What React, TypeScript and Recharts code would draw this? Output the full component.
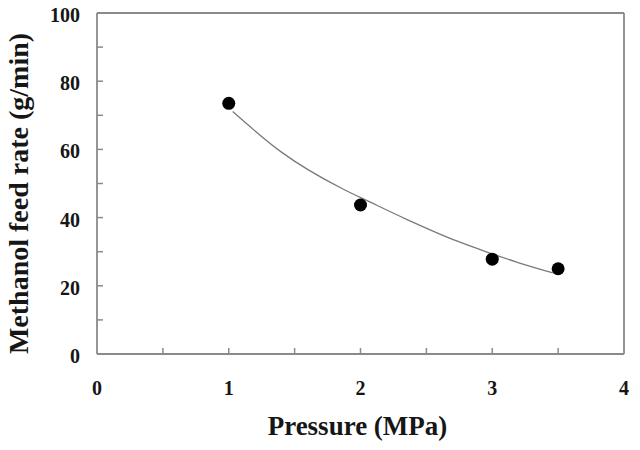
import React from 'react';
import { ComposedChart, Line, Scatter, XAxis, YAxis, ReferenceLine, Label } from 'recharts';

// Measured methanol feed rate at each pressure
const pressure = [1, 2, 3, 3.5];
const feedRate = [73.5, 43.7, 27.8, 25.0];

// Trend curve through the measurements
const trendPressure = [1.03, 1.4, 1.87, 2.07, 2.35, 2.74, 2.96, 3.19, 3.46];
const trendRate = [71.1, 59.2, 48.3, 44.6, 39.5, 33.0, 29.9, 26.9, 23.8];

// Axis ticks (all get a tick mark, labelled ones get text)
const xTicks = [0, 0.5, 1, 1.5, 2, 2.5, 3, 3.5, 4];
const xLabels = [0, 1, 2, 3, 4];
const yTicks = [0, 10, 20, 30, 40, 50, 60, 70, 80, 90, 100];
const yLabels = [0, 20, 40, 60, 80, 100];

const points = pressure.map((p, i) => ({ p, rate: feedRate[i] }));
const trend = trendPressure.map((p, i) => ({ p, rate: trendRate[i] }));

const FONT = '"Liberation Serif", "Times New Roman", serif';
const AXIS = '#8a8a8a';
const INK = '#161616';

const XTick = (props: any) => {
  const { x, y, payload } = props;
  const v = payload.value;
  const inner = v > 0 && v < 4;
  return (
    <g>
      {inner && <line x1={x} x2={x} y1={y} y2={y - 6} stroke={AXIS} strokeWidth={1.5} />}
      {xLabels.includes(v) && (
        <text x={x} y={y + 34} dy="0.35em" textAnchor="middle" fontFamily={FONT} fontWeight="bold" fontSize={20} fill={INK}>
          {v}
        </text>
      )}
    </g>
  );
};

const YTick = (props: any) => {
  const { x, y, payload } = props;
  const v = payload.value;
  const inner = v > 0 && v < 100;
  return (
    <g>
      {inner && <line x1={x} x2={x + 6} y1={y} y2={y} stroke={AXIS} strokeWidth={1.5} />}
      {yLabels.includes(v) && (
        <text x={x - 17} y={y + 2} dy="0.35em" textAnchor="end" fontFamily={FONT} fontWeight="bold" fontSize={20} fill={INK}>
          {v}
        </text>
      )}
    </g>
  );
};

const Dot = (props: any) => <circle cx={props.cx} cy={props.cy} r={6.5} fill="#000" />;

export default function App() {
  return (
    <div style={{ margin: -8 }}>
      <ComposedChart width={640} height={450} margin={{ top: 13, right: 16, bottom: 0, left: 0 }}>
        <XAxis
          type="number"
          dataKey="p"
          domain={[0, 4]}
          ticks={xTicks}
          interval={0}
          tickSize={0}
          tickMargin={0}
          tickLine={false}
          height={96}
          axisLine={{ stroke: AXIS, strokeWidth: 1.8 }}
          tick={<XTick />}
        >
          <Label
            content={(p: any) => {
              const vb = p.viewBox;
              return (
                <text x={vb.x + vb.width / 2 - 3} y={vb.y + 81} textAnchor="middle" fontFamily={FONT} fontWeight="bold" fontSize={27} fill={INK}>
                  Pressure (MPa)
                </text>
              );
            }}
          />
        </XAxis>
        <YAxis
          type="number"
          domain={[0, 100]}
          ticks={yTicks}
          interval={0}
          tickSize={0}
          tickMargin={0}
          tickLine={false}
          width={97}
          axisLine={{ stroke: AXIS, strokeWidth: 1.8 }}
          tick={<YTick />}
        >
          <Label
            content={(p: any) => {
              const vb = p.viewBox;
              const cx = vb.x + 28;
              const cy = vb.y + vb.height / 2 + 10;
              return (
                <text x={cx} y={cy} transform={`rotate(-90 ${cx} ${cy})`} textAnchor="middle" fontFamily={FONT} fontWeight="bold" fontSize={28} fill={INK}>
                  Methanol feed rate (g/min)
                </text>
              );
            }}
          />
        </YAxis>
        <ReferenceLine y={100} stroke={AXIS} strokeWidth={1.8} />
        <ReferenceLine x={4} stroke={AXIS} strokeWidth={1.8} />
        <Line
          data={trend}
          dataKey="rate"
          type="monotone"
          stroke="#7a7a7a"
          strokeWidth={1.3}
          dot={false}
          activeDot={false}
          isAnimationActive={false}
        />
        <Scatter data={points} dataKey="rate" shape={<Dot />} isAnimationActive={false} />
      </ComposedChart>
    </div>
  );
}
